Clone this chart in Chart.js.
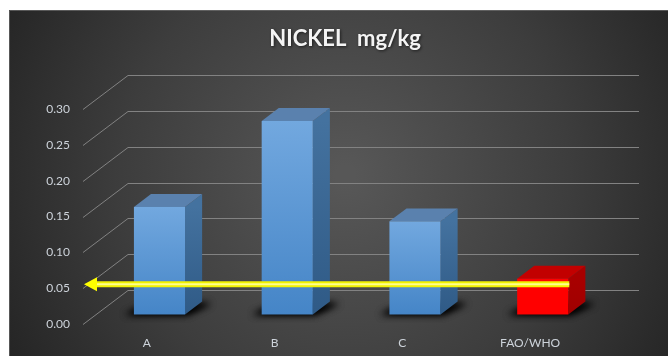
<!DOCTYPE html>
<html>
<head>
<meta charset="utf-8">
<script src="https://cdn.jsdelivr.net/npm/chart.js@4"></script>
<style>
  html, body { margin: 0; padding: 0; background: #ffffff; }
  #wrap { position: relative; width: 668px; height: 356px; }
  canvas { display: block; }
</style>
</head>
<body>
<div id="wrap"><canvas id="chart" width="668" height="356" style="width:668px;height:356px"></canvas></div>
<script>
// Nickel content per sample, with the FAO/WHO limit as the last column
const categories = ['A', 'B', 'C', 'FAO/WHO'];
const nickelValues = [0.15, 0.27, 0.13, 0.05];
const limitValue = 0.05;
const yTickValues = [0.00, 0.05, 0.10, 0.15, 0.20, 0.25, 0.30];
const chartTitle = 'NICKEL  mg/kg';

// Simple oblique projection used to fake the 3-D look
const FLOOR_DX = 45, FLOOR_DY = -34;   // depth of the floor / back wall
const BAR_FRONT = 0.28;                 // where the bar front sits in the depth
const BAR_DEPTH = 0.38;                 // how deep each bar is

function frontFace(el) {
  const w = el.width;
  const fx = BAR_FRONT * FLOOR_DX, fy = BAR_FRONT * FLOOR_DY;
  return {
    x0: el.x - w / 2 + fx,
    x1: el.x + w / 2 + fx,
    top: el.y + fy,
    base: el.base + fy
  };
}

const bars3d = {
  id: 'bars3d',
  beforeDraw(chart) {
    const ctx = chart.ctx;
    ctx.save();
    ctx.fillStyle = '#ffffff';
    ctx.fillRect(0, 0, chart.width, chart.height);
    const g = ctx.createRadialGradient(345, 175, 10, 345, 175, 400);
    g.addColorStop(0, '#575757');
    g.addColorStop(0.55, '#3d3d3d');
    g.addColorStop(1, '#222222');
    ctx.fillStyle = g;
    ctx.fillRect(9, 10, chart.width - 9, chart.height - 10);
    ctx.strokeStyle = 'rgba(120,120,120,0.6)';
    ctx.lineWidth = 1;
    ctx.beginPath();
    ctx.moveTo(9.5, chart.height);
    ctx.lineTo(9.5, 10.5);
    ctx.lineTo(chart.width, 10.5);
    ctx.stroke();

    // title
    ctx.font = 'bold 22px Lato, "Open Sans", sans-serif';
    ctx.textAlign = 'center';
    ctx.textBaseline = 'middle';
    ctx.shadowColor = 'rgba(0,0,0,0.6)';
    ctx.shadowBlur = 3;
    ctx.shadowOffsetX = 1;
    ctx.shadowOffsetY = 1;
    ctx.fillStyle = '#f4f4f4';
    ctx.fillText(chartTitle, 345, 39);
    ctx.restore();
  },
  beforeDatasetsDraw(chart) {
    const ctx = chart.ctx;
    const ys = chart.scales.y;
    const area = chart.chartArea;
    ctx.save();
    ctx.strokeStyle = '#828282';
    ctx.lineWidth = 1;
    yTickValues.forEach(v => {
      const y = Math.round(ys.getPixelForValue(v)) + 0.5;
      ctx.beginPath();
      ctx.moveTo(area.left, y);
      ctx.lineTo(area.left + FLOOR_DX, y + FLOOR_DY);
      ctx.lineTo(area.right + FLOOR_DX, y + FLOOR_DY);
      ctx.stroke();
    });
    ctx.restore();
  },
  afterDatasetsDraw(chart) {
    const ctx = chart.ctx;
    const meta = chart.getDatasetMeta(0);
    const ddx = BAR_DEPTH * FLOOR_DX, ddy = BAR_DEPTH * FLOOR_DY;
    const palette = [
      { front: ['#72a8df', '#4585c7'], side: ['#44729f', '#2f5a86'], top: '#5a81ae' },
      { front: ['#ff0000', '#ff0000'], side: ['#a80000', '#a00000'], top: '#c20000' }
    ];
    // soft floor shadows (shape drawn off-canvas, only its blurred shadow lands here)
    const off = 2000;
    meta.data.forEach(el => {
      const f = frontFace(el);
      for (let pass = 0; pass < 2; pass++) {
        ctx.save();
        ctx.shadowColor = 'rgba(0,0,0,0.95)';
        ctx.shadowBlur = 7;
        ctx.shadowOffsetX = off;
        ctx.fillStyle = '#000';
        ctx.beginPath();
        ctx.moveTo(f.x0 - 9 - off, f.base);
        ctx.lineTo(f.x1 + 2 - off, f.base);
        ctx.lineTo(f.x1 + ddx + 9 - off, f.base + ddy + 2);
        ctx.lineTo(f.x0 + ddx - 2 - off, f.base + ddy + 2);
        ctx.closePath();
        ctx.fill();
        ctx.restore();
      }
    });
    meta.data.forEach((el, i) => {
      const p = palette[categories[i] === 'FAO/WHO' ? 1 : 0];
      const f = frontFace(el);
      ctx.save();
      // side
      const gs = ctx.createLinearGradient(0, f.top, 0, f.base);
      gs.addColorStop(0, p.side[0]);
      gs.addColorStop(1, p.side[1]);
      ctx.fillStyle = gs;
      ctx.beginPath();
      ctx.moveTo(f.x1, f.top);
      ctx.lineTo(f.x1 + ddx, f.top + ddy);
      ctx.lineTo(f.x1 + ddx, f.base + ddy);
      ctx.lineTo(f.x1, f.base);
      ctx.closePath();
      ctx.fill();
      // top
      ctx.fillStyle = p.top;
      ctx.beginPath();
      ctx.moveTo(f.x0, f.top);
      ctx.lineTo(f.x0 + ddx, f.top + ddy);
      ctx.lineTo(f.x1 + ddx, f.top + ddy);
      ctx.lineTo(f.x1, f.top);
      ctx.closePath();
      ctx.fill();
      // front
      const gf = ctx.createLinearGradient(0, f.top, 0, f.base);
      gf.addColorStop(0, p.front[0]);
      gf.addColorStop(1, p.front[1]);
      ctx.fillStyle = gf;
      ctx.fillRect(f.x0, f.top, f.x1 - f.x0, f.base - f.top);
      ctx.restore();
    });

    // limit arrow running from the FAO/WHO column back to the value axis
    const ys = chart.scales.y;
    const area = chart.chartArea;
    const last = meta.data[meta.data.length - 1];
    const lf = frontFace(last);
    const ay = ys.getPixelForValue(limitValue) - 4;
    const tipX = area.left + 1;
    const headLen = 13, headHalf = 7;
    ctx.save();
    ctx.strokeStyle = '#f2f200';
    ctx.lineWidth = 6;
    ctx.beginPath();
    ctx.moveTo(lf.x1 + 1, ay);
    ctx.lineTo(tipX + headLen - 1, ay);
    ctx.stroke();
    ctx.strokeStyle = '#ffff8c';
    ctx.lineWidth = 2;
    ctx.beginPath();
    ctx.moveTo(lf.x1 + 1, ay);
    ctx.lineTo(tipX + headLen, ay);
    ctx.stroke();
    ctx.fillStyle = '#ffff00';
    ctx.beginPath();
    ctx.moveTo(tipX, ay);
    ctx.lineTo(tipX + headLen, ay - headHalf);
    ctx.lineTo(tipX + headLen, ay + headHalf);
    ctx.closePath();
    ctx.fill();
    ctx.restore();
  }
};

new Chart(document.getElementById('chart'), {
  type: 'bar',
  data: {
    labels: categories,
    datasets: [{
      label: 'Nickel (mg/kg)',
      data: nickelValues,
      backgroundColor: 'rgba(0,0,0,0)',
      borderWidth: 0,
      categoryPercentage: 1,
      barPercentage: 0.4
    }]
  },
  options: {
    responsive: false,
    devicePixelRatio: 1,
    animation: false,
    layout: { padding: { top: 109, right: 74, bottom: 0, left: 0 } },
    plugins: { legend: { display: false }, tooltip: { enabled: false }, title: { display: false } },
    scales: {
      x: {
        grid: { display: false, drawTicks: false },
        border: { display: false },
        ticks: { color: '#cdd3da', font: { family: 'Lato, "Open Sans", sans-serif', size: 12 }, padding: 12 },
        afterFit(scale) { scale.height = 32; }
      },
      y: {
        min: 0,
        max: 0.30,
        grid: { display: false, drawTicks: false },
        border: { display: false },
        afterBuildTicks(scale) { scale.ticks = yTickValues.map(v => ({ value: v })); },
        ticks: {
          color: '#cdd3da',
          font: { family: 'Lato, "Open Sans", sans-serif', size: 12 },
          padding: 13,
          callback: v => Number(v).toFixed(2)
        },
        afterFit(scale) { scale.width = 83; }
      }
    }
  },
  plugins: [bars3d]
});
</script>
</body>
</html>
